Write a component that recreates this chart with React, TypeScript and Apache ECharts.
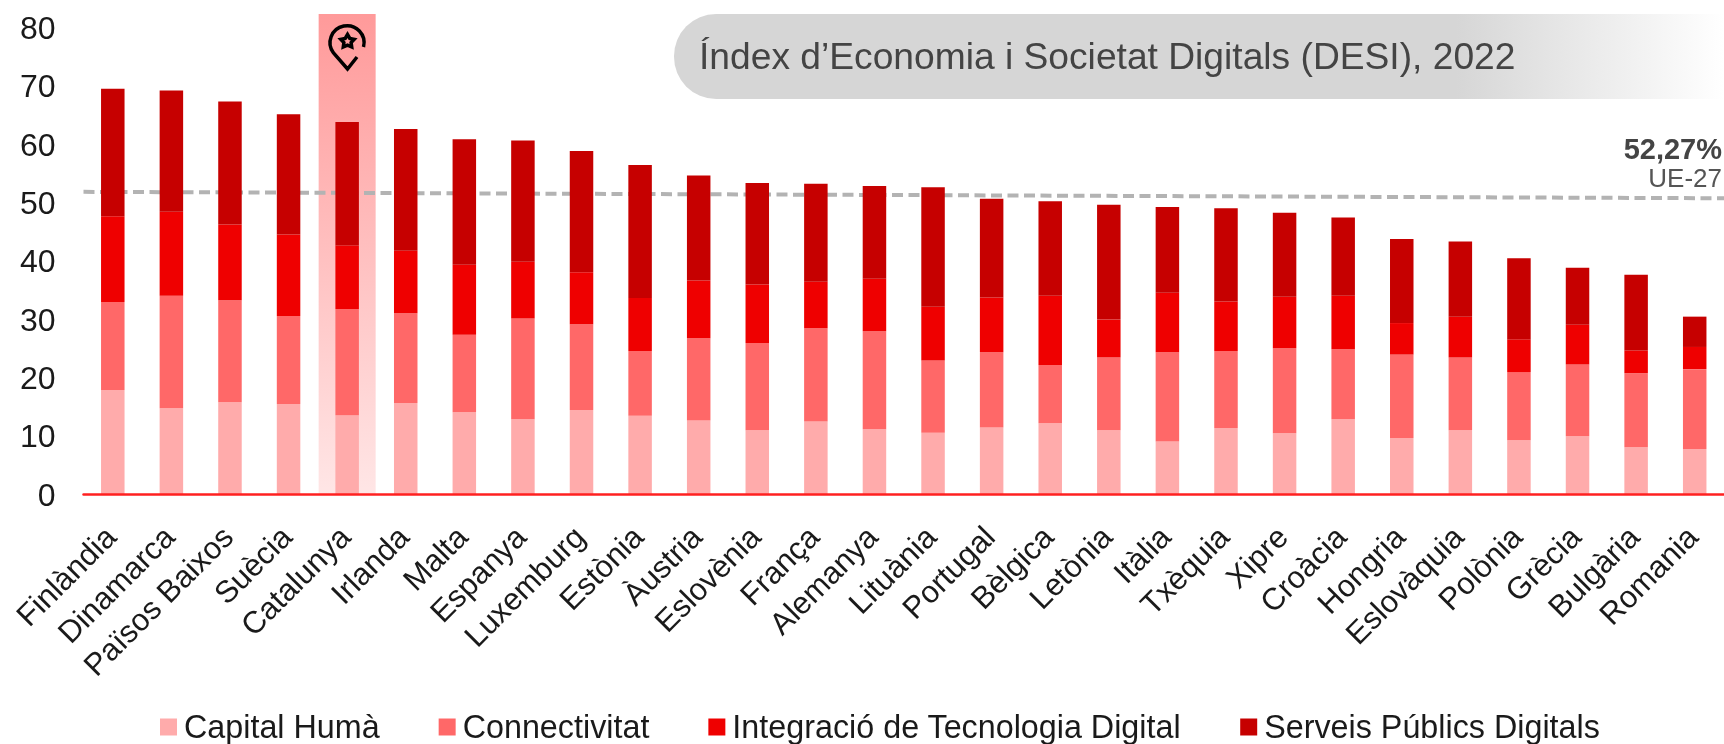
import React, { useEffect, useRef } from "react";
import * as echarts from "echarts";

const categories = ["Finlàndia","Dinamarca","Països Baixos","Suècia","Catalunya","Irlanda","Malta","Espanya","Luxemburg","Estònia","Àustria","Eslovènia","França","Alemanya","Lituània","Portugal","Bèlgica","Letònia","Itàlia","Txèquia","Xipre","Croàcia","Hongria","Eslovàquia","Polònia","Grècia","Bulgària","Romania"];
const capitalHuma = [17.9,14.8,15.8,15.5,13.6,15.7,14.1,12.9,14.5,13.5,12.7,11.0,12.5,11.2,10.6,11.5,12.2,11.0,9.1,11.4,10.5,12.9,9.7,11.0,9.3,10.0,8.1,7.8];
const connectivitat = [15.1,19.3,17.5,15.1,18.2,15.4,13.3,17.3,14.7,11.1,14.1,15.0,16.0,16.8,12.4,12.9,10.0,12.5,15.3,13.2,14.6,12.0,14.3,12.5,11.7,12.3,12.7,13.7];
const integracio = [14.7,14.4,13.0,14.0,10.9,10.7,12.0,9.7,8.9,9.1,9.9,10.0,8.0,9.0,9.2,9.4,11.9,6.5,10.2,8.5,8.8,9.2,5.4,7.0,5.6,6.8,3.9,3.8];
const serveis = [21.9,20.8,21.1,20.6,21.2,20.9,21.5,20.8,20.8,22.8,18.0,17.4,16.8,15.9,20.5,16.9,16.2,19.7,14.7,16.0,14.4,13.4,14.4,12.9,13.9,9.8,13.0,5.2];
const seriesNames = ["Capital Humà","Connectivitat","Integració de Tecnologia Digital","Serveis Públics Digitals"];
const seriesColors = ["#ffabab","#ff6868","#ef0000","#c60000"];
const highlightCategory = "Catalunya";
const axisMax = 82.4;
const ueLine = [[0,51.9],[1,50.8]];
const titleText = "Índex d’Economia i Societat Digitals (DESI), 2022";
const ueValue = "52,27%";
const ueLabel = "UE-27";

const FONT = "'Liberation Sans', Arial, sans-serif";

const pinPath = "M36.5 25 A17 17 0 1 0 6.5 31 L20.5 47 L30 35 " +
  "M20.5 12.5 L22.8 16.4 L27.2 17.3 L24.1 20.6 L24.7 25 L20.5 23.2 L16.3 25 L16.9 20.6 L13.8 17.3 L18.2 16.4 Z";
echarts.graphic.registerShape("pinStar", echarts.graphic.extendPath(pinPath, {}));

export default function App() {
  const ref = useRef<HTMLDivElement>(null);
  useEffect(() => {
    const chart = echarts.init(ref.current!, null, { renderer: "svg" });
    const values = [capitalHuma, connectivitat, integracio, serveis];
    chart.setOption({
      animation: false,
      textStyle: { fontFamily: FONT },
      grid: { left: 83.5, right: 0, top: 14, bottom: 249.5, containLabel: false },
      legend: {
        data: seriesNames,
        left: 155,
        top: 706,
        icon: "rect",
        itemWidth: 17,
        itemHeight: 17,
        itemGap: 59,
        selectedMode: false,
        textStyle: { fontSize: 32.3, color: "#1a1a1a", fontFamily: FONT, padding: [0, 0, 0, 2] },
      },
      xAxis: [
        {
          type: "category",
          data: categories,
          axisLine: { lineStyle: { color: "#ff2020", width: 2.5 } },
          axisTick: { show: false },
          z: 5,
          axisLabel: { rotate: 45, interval: 0, fontSize: 31, color: "#1a1a1a", margin: 35, padding: [0, 3, 0, 0], fontFamily: FONT },
        },
        { type: "category", data: categories, show: false },
        { type: "value", min: 0, max: 1, show: false },
      ],
      yAxis: {
        type: "value",
        min: 0,
        max: axisMax,
        interval: 10,
        splitLine: { show: false },
        axisLine: { show: false },
        axisTick: { show: false },
        axisLabel: { fontSize: 32, color: "#1a1a1a", margin: 28, showMaxLabel: false, fontFamily: FONT },
      },
      series: [
        {
          type: "bar",
          name: "highlight",
          xAxisIndex: 1,
          z: 1,
          barWidth: 57,
          silent: true,
          data: categories.map((c) => (c === highlightCategory ? axisMax : null)),
          itemStyle: {
            color: {
              type: "linear", x: 0, y: 0, x2: 0, y2: 1,
              colorStops: [
                { offset: 0, color: "#ff9a9a" },
                { offset: 1, color: "#ffe6e6" },
              ],
            },
          },
        },
        {
          type: "line",
          name: "UE-27",
          xAxisIndex: 2,
          z: 2,
          silent: true,
          symbol: "none",
          data: ueLine,
          lineStyle: { color: "#b3b3b3", width: 4, type: [11, 5.5] },
        },
        ...seriesNames.map((name, i) => ({
          type: "bar",
          name,
          stack: "desi",
          xAxisIndex: 0,
          z: 3,
          barWidth: 23.5,
          data: values[i],
          itemStyle: { color: seriesColors[i] },
        })),
      ],
      graphic: [
        {
          type: "rect",
          z: 0,
          shape: { x: 674, y: 14, width: 1050, height: 85, r: [42, 0, 0, 42] },
          style: {
            fill: {
              type: "linear", x: 0, y: 0, x2: 1, y2: 0,
              colorStops: [
                { offset: 0, color: "#d6d6d6" },
                { offset: 0.745, color: "#d6d6d6" },
                { offset: 1, color: "#ffffff" },
              ],
            },
          },
        },
        {
          type: "text",
          z: 10,
          x: 699,
          y: 56,
          style: { text: titleText, fontSize: 37.2, fill: "#444444", fontFamily: FONT, verticalAlign: "middle" },
        },
        {
          type: "text",
          z: 10,
          x: 1722,
          y: 149,
          style: { text: ueValue, fontSize: 29, fontWeight: "bold", fill: "#444444", fontFamily: FONT, align: "right", verticalAlign: "middle" },
        },
        {
          type: "text",
          z: 10,
          x: 1722,
          y: 178,
          style: { text: ueLabel, fontSize: 26, fill: "#555555", fontFamily: FONT, align: "right", verticalAlign: "middle" },
        },
        {
          type: "pinStar",
          z: 10,
          x: 327,
          y: 22,
          style: { fill: "none", stroke: "#000000", lineWidth: 3.5 },
        },
      ],
    });
    return () => chart.dispose();
  }, []);
  return <div ref={ref} style={{ position: "fixed", left: 0, top: 0, width: 1724, height: 744 }} />;
}
